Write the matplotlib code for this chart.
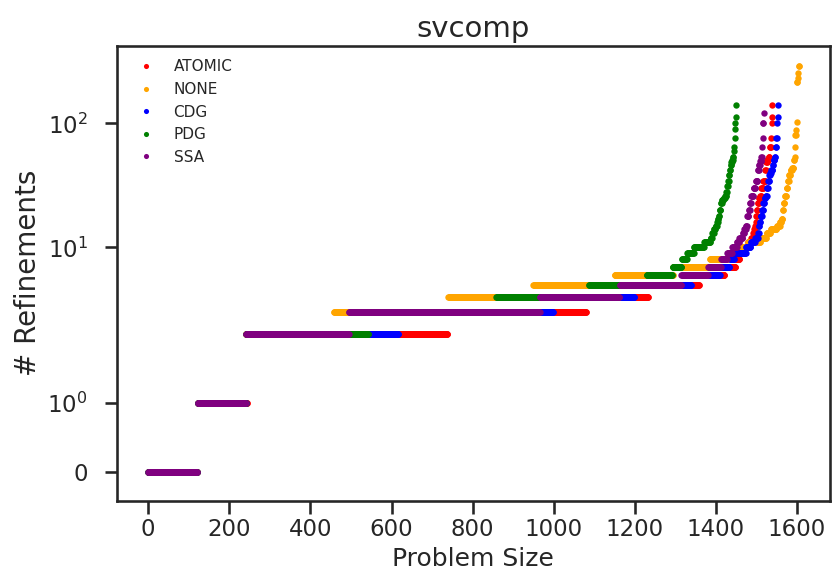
import numpy as np
import matplotlib
matplotlib.use("Agg")
import matplotlib.pyplot as plt
import seaborn as sns
from matplotlib.ticker import NullLocator

# refinement levels per series and the cumulative problem index where each level ends
ATOMIC_LEVELS = [0, 1, 2, 3, 4, 5, 6, 7, 8, 9, 10, 11, 12, 13, 14, 15, 16, 18, 20, 23, 25, 26,
                 30, 34, 42, 49, 51, 54, 64, 76, 100, 113, 141]
ATOMIC_ENDS = [122, 245, 739, 1081, 1234, 1359, 1422, 1449, 1459, 1470, 1480, 1487, 1492, 1495,
               1497, 1498, 1499, 1501, 1503, 1506, 1509, 1512, 1517, 1522, 1524, 1527, 1530,
               1533, 1536, 1537, 1538, 1539, 1540]

NONE_LEVELS = [0, 1, 2, 3, 4, 5, 6, 7, 8, 9, 10, 11, 12, 13, 14, 15, 16, 17, 20, 23, 26, 30,
               34, 38, 42, 44, 51, 54, 64, 80, 88, 102, 217, 231, 256, 290]
NONE_ENDS = [122, 240, 458, 740, 950, 1150, 1295, 1385, 1430, 1455, 1480, 1510, 1525, 1535,
             1550, 1558, 1562, 1565, 1567, 1570, 1574, 1577, 1580, 1584, 1588, 1592, 1594,
             1595, 1596, 1598, 1599, 1600, 1602, 1603, 1604, 1606]

CDG_LEVELS = [0, 1, 2, 3, 4, 5, 6, 7, 8, 9, 10, 11, 12, 13, 15, 16, 18, 20, 23, 25, 26, 30,
              34, 38, 40, 42, 46, 51, 54, 64, 76, 100, 113, 141]
CDG_ENDS = [122, 243, 618, 999, 1200, 1340, 1410, 1434, 1446, 1474, 1486, 1497, 1504, 1506,
            1508, 1510, 1514, 1517, 1520, 1523, 1526, 1529, 1532, 1534, 1536, 1540, 1542,
            1545, 1547, 1549, 1551, 1552, 1553, 1554]

PDG_LEVELS = [0, 1, 2, 3, 4, 5, 6, 7, 8, 9, 10, 11, 12, 13, 14, 15, 16, 17, 18, 20, 23, 24,
              25, 26, 28, 31, 34, 38, 42, 46, 49, 51, 54, 60, 64, 76, 90, 100, 113, 141]
PDG_ENDS = [122, 241, 544, 858, 1087, 1229, 1293, 1316, 1329, 1346, 1371, 1387, 1391, 1395,
            1399, 1403, 1405, 1407, 1409, 1412, 1415, 1419, 1423, 1426, 1428, 1430, 1432,
            1434, 1436, 1438, 1440, 1442, 1444, 1445, 1446, 1447, 1448, 1449, 1450, 1451]

SSA_LEVELS = [0, 1, 2, 3, 4, 5, 6, 7, 8, 9, 10, 11, 12, 13, 14, 15, 18, 20, 23, 26, 30, 34,
              42, 46, 50, 54, 64, 76, 100, 122]
SSA_ENDS = [122, 241, 495, 966, 1163, 1315, 1381, 1413, 1428, 1440, 1452, 1458, 1466, 1470,
            1474, 1477, 1481, 1484, 1487, 1493, 1498, 1503, 1506, 1509, 1512, 1514, 1515,
            1516, 1518, 1519]

SERIES = [
    ("ATOMIC", ATOMIC_LEVELS, ATOMIC_ENDS, "red"),
    ("NONE", NONE_LEVELS, NONE_ENDS, "orange"),
    ("CDG", CDG_LEVELS, CDG_ENDS, "blue"),
    ("PDG", PDG_LEVELS, PDG_ENDS, "green"),
    ("SSA", SSA_LEVELS, SSA_ENDS, "purple"),
]

X_TICKS = [0, 200, 400, 600, 800, 1000, 1200, 1400, 1600]
Y_TICKS = [0, 1, 10, 100]
Y_TICK_LABELS = ["0", "$10^0$", "$10^1$", "$10^2$"]


def expand(levels, ends):
    counts = np.diff([0] + ends)
    return np.repeat(levels, counts)


sns.set_style("ticks")
sns.set_context("talk")

fig, ax = plt.subplots(figsize=(8.32, 5.77), dpi=100)
fig.subplots_adjust(left=117 / 832, right=829.5 / 832, top=1 - 45.5 / 577, bottom=1 - 501 / 577)

for name, levels, ends, color in SERIES:
    y = expand(levels, ends)
    x = np.arange(len(y))
    ax.plot(x, y, "o", color=color, ms=4.6, mew=0, label=name)

ax.set_yscale("symlog", linthresh=2, linscale=1)
ax.set_yticks(Y_TICKS)
ax.set_yticklabels(Y_TICK_LABELS)
ax.yaxis.set_minor_locator(NullLocator())
ax.tick_params(axis="y", pad=12)
ax.set_xticks(X_TICKS)
ax.set_xlim(-77, 1680)
ax.set_ylim(-0.42, 424)

ax.set_title("svcomp", fontsize=21)
ax.set_xlabel("Problem Size")
ax.set_ylabel("# Refinements", fontsize=20)
ax.legend(loc="upper left", frameon=False, fontsize=11, markerscale=0.8)

fig.savefig("out.png", dpi=100)
